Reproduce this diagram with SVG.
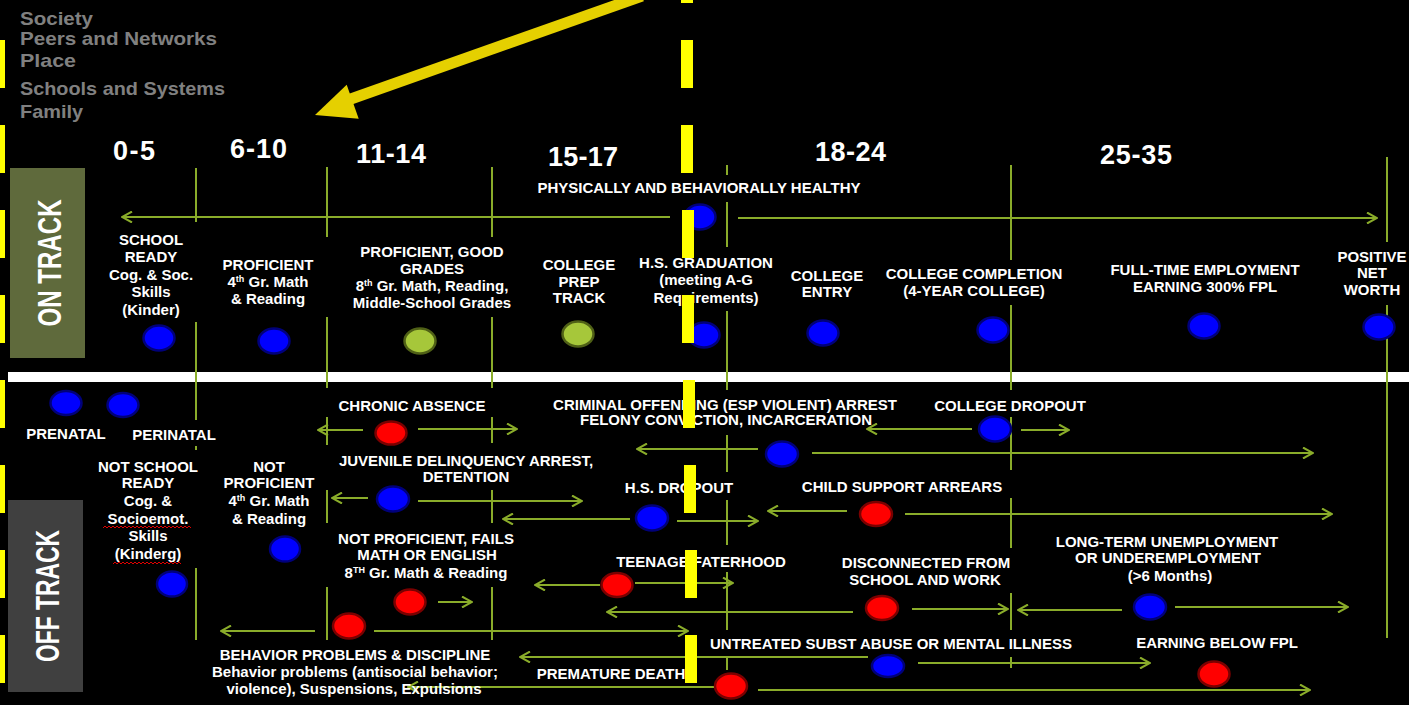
<svg xmlns="http://www.w3.org/2000/svg" width="1409" height="705" viewBox="0 0 1409 705">
<defs>
<style>
.t{font-family:"Liberation Sans",Arial,sans-serif;font-weight:bold;font-size:15px;fill:#fff;text-anchor:middle}
.gr{font-family:"Liberation Sans",Arial,sans-serif;font-weight:bold;font-size:19px;fill:#808080}
.age{font-family:"Liberation Sans",Arial,sans-serif;font-weight:bold;font-size:27px;fill:#fff}
.trk{font-family:"Liberation Sans",Arial,sans-serif;font-weight:bold;font-size:24px;fill:#fff;text-anchor:middle}
.ln{stroke:#8aac2a;stroke-width:2;fill:none}
.ar{stroke:#8aac2a;stroke-width:2;fill:none;marker-end:url(#ah)}
.b{fill:#0000ff;stroke:#00007a;stroke-width:2.5}
.r{fill:#ff0000;stroke:#7a0000;stroke-width:2.5}
.g{fill:#a6c73a;stroke:#4f6016;stroke-width:2.5}
.yd{fill:#ffff00}
.sq{stroke:#e00000;stroke-width:1;fill:none}
</style>
<marker id="ah" viewBox="0 0 12 12" refX="11" refY="6" markerWidth="12" markerHeight="12" markerUnits="userSpaceOnUse" orient="auto">
<path d="M1,0.5 L11,6 L1,11.5" fill="none" stroke="#8aac2a" stroke-width="2"/>
</marker>
</defs>
<rect width="1409" height="705" fill="#000"/>

<g id="levels">
<text class="gr" x="20" y="25" textLength="73" lengthAdjust="spacingAndGlyphs">Society</text>
<text class="gr" x="20" y="45" textLength="197" lengthAdjust="spacingAndGlyphs">Peers and Networks</text>
<text class="gr" x="20" y="67" textLength="56" lengthAdjust="spacingAndGlyphs">Place</text>
<text class="gr" x="20" y="95" textLength="205" lengthAdjust="spacingAndGlyphs">Schools and Systems</text>
<text class="gr" x="20" y="118" textLength="63" lengthAdjust="spacingAndGlyphs">Family</text>
</g>

<g id="ages">
<text class="age" x="113" y="160" textLength="42">0-5</text>
<text class="age" x="230" y="158" textLength="57">6-10</text>
<text class="age" x="356" y="163" textLength="70">11-14</text>
<text class="age" x="548" y="166" textLength="70">15-17</text>
<text class="age" x="815" y="161" textLength="71">18-24</text>
<text class="age" x="1100" y="164" textLength="72">25-35</text>
</g>

<g id="on-track-label">
<rect x="10" y="168" width="75" height="190" fill="#5f6a3c"/>
<text class="trk" transform="translate(61,263) rotate(-90) scale(1,1.35)" textLength="127" lengthAdjust="spacingAndGlyphs">ON TRACK</text>
</g>
<g id="off-track-label">
<rect x="8" y="500" width="75" height="192" fill="#404040"/>
<text class="trk" transform="translate(59,596) rotate(-90) scale(1,1.35)" textLength="132" lengthAdjust="spacingAndGlyphs">OFF TRACK</text>
</g>

<rect id="divider" x="8" y="372" width="1401" height="10" fill="#fff"/>

<g id="grid">
<path class="ln" d="M196,168V222M196,322V420M196,446V450M196,568V640"/>
<path class="ln" d="M327,167V237M327,317V388M327,417V445M327,490V523M327,587V640"/>
<path class="ln" d="M492,167V237M492,317V388M492,417V443M492,490V523M492,587V640"/>
<path class="ln" d="M727,165V175M727,202V247M727,311V390M727,435V472M727,500V545M727,572V630M727,658V670"/>
<path class="ln" d="M1011,165V260M1011,305V390M1011,417V470M1011,498V548M1011,593V630M1011,657V668"/>
<path class="ln" d="M1387,157V242M1387,305V638"/>
</g>

<g id="connectors">
<line class="ar" x1="670" y1="217" x2="122" y2="217"/>
<line class="ar" x1="738" y1="218" x2="1377" y2="218"/>
<line class="ar" x1="363" y1="430" x2="318" y2="430"/>
<line class="ar" x1="418" y1="429" x2="517" y2="429"/>
<line class="ar" x1="368" y1="498" x2="332" y2="498"/>
<line class="ar" x1="418" y1="501" x2="582" y2="501"/>
<line class="ar" x1="630" y1="519" x2="503" y2="519"/>
<line class="ar" x1="677" y1="521" x2="758" y2="521"/>
<line class="ar" x1="758" y1="449" x2="637" y2="449"/>
<line class="ar" x1="812" y1="453" x2="1313" y2="453"/>
<line class="ar" x1="972" y1="429" x2="867" y2="429"/>
<line class="ar" x1="1021" y1="430" x2="1069" y2="430"/>
<line class="ar" x1="847" y1="511" x2="768" y2="511"/>
<line class="ar" x1="905" y1="514" x2="1332" y2="514"/>
<line class="ar" x1="438" y1="602" x2="472" y2="602"/>
<line class="ar" x1="315" y1="631" x2="221" y2="631"/>
<line class="ar" x1="374" y1="631" x2="688" y2="631"/>
<line class="ar" x1="600" y1="585" x2="535" y2="585"/>
<line class="ar" x1="635" y1="583" x2="733" y2="583"/>
<line class="ar" x1="853" y1="612" x2="607" y2="612"/>
<line class="ar" x1="912" y1="609" x2="1008" y2="609"/>
<line class="ar" x1="1122" y1="610" x2="1018" y2="610"/>
<line class="ar" x1="1175" y1="607" x2="1348" y2="607"/>
<line class="ar" x1="868" y1="657" x2="520" y2="657"/>
<line class="ar" x1="918" y1="663" x2="1150" y2="663"/>
<line class="ar" x1="715" y1="687" x2="408" y2="687"/>
<line class="ar" x1="758" y1="690" x2="1310" y2="690"/>
</g>

<g id="healthy">
<text class="t" x="699" y="193">PHYSICALLY AND BEHAVIORALLY HEALTHY</text>
<ellipse class="b" cx="700" cy="217" rx="15.5" ry="12.5"/>
</g>
<g id="school-ready">
<text class="t" x="151" y="245">SCHOOL</text>
<text class="t" x="151" y="262">READY</text>
<text class="t" x="151" y="280">Cog. &amp; Soc.</text>
<text class="t" x="151" y="297">Skills</text>
<text class="t" x="151" y="315">(Kinder)</text>
<ellipse class="b" cx="159" cy="338" rx="15.5" ry="12.5"/>
</g>
<g id="proficient-4">
<text class="t" x="268" y="270">PROFICIENT</text>
<text class="t" x="268" y="287">4<tspan font-size="9" dy="-5">th</tspan><tspan dy="5"> Gr. Math</tspan></text>
<text class="t" x="268" y="304">&amp; Reading</text>
<ellipse class="b" cx="274" cy="341" rx="15.5" ry="12.5"/>
</g>
<g id="proficient-8">
<text class="t" x="432" y="257">PROFICIENT, GOOD</text>
<text class="t" x="432" y="274">GRADES</text>
<text class="t" x="432" y="291">8<tspan font-size="9" dy="-5">th</tspan><tspan dy="5">  Gr. Math, Reading,</tspan></text>
<text class="t" x="432" y="308">Middle-School Grades</text>
<ellipse class="g" cx="420" cy="341" rx="15.5" ry="12.5"/>
</g>
<g id="college-prep">
<text class="t" x="579" y="270">COLLEGE</text>
<text class="t" x="579" y="287">PREP</text>
<text class="t" x="579" y="303">TRACK</text>
<ellipse class="g" cx="578" cy="334" rx="15.5" ry="12.5"/>
</g>
<g id="hs-graduation">
<text class="t" x="706" y="268">H.S. GRADUATION</text>
<text class="t" x="706" y="285">(meeting A-G</text>
<text class="t" x="706" y="303">Requirements)</text>
<ellipse class="b" cx="704" cy="335" rx="15.5" ry="12.5"/>
</g>
<g id="college-entry">
<text class="t" x="827" y="281">COLLEGE</text>
<text class="t" x="827" y="297">ENTRY</text>
<ellipse class="b" cx="823" cy="333" rx="15.5" ry="12.5"/>
</g>
<g id="college-completion">
<text class="t" x="974" y="279">COLLEGE COMPLETION</text>
<text class="t" x="974" y="296">(4-YEAR COLLEGE)</text>
<ellipse class="b" cx="993" cy="330" rx="15.5" ry="12.5"/>
</g>
<g id="full-time">
<text class="t" x="1205" y="275">FULL-TIME EMPLOYMENT</text>
<text class="t" x="1205" y="292">EARNING 300% FPL</text>
<ellipse class="b" cx="1204" cy="326" rx="15.5" ry="12.5"/>
</g>
<g id="net-worth">
<text class="t" x="1372" y="262">POSITIVE</text>
<text class="t" x="1372" y="278">NET</text>
<text class="t" x="1372" y="295">WORTH</text>
<ellipse class="b" cx="1379" cy="327" rx="15.5" ry="12.5"/>
</g>

<g id="prenatal">
<ellipse class="b" cx="66" cy="403" rx="15.5" ry="12"/>
<text class="t" x="66" y="439">PRENATAL</text>
</g>
<g id="perinatal">
<ellipse class="b" cx="123" cy="405" rx="15.5" ry="12"/>
<text class="t" x="174" y="440">PERINATAL</text>
</g>
<g id="chronic-absence">
<text class="t" x="412" y="411">CHRONIC ABSENCE</text>
<ellipse class="r" cx="391" cy="433" rx="15.5" ry="11.5"/>
</g>
<g id="not-school-ready">
<text class="t" x="148" y="472">NOT SCHOOL</text>
<text class="t" x="148" y="488">READY</text>
<text class="t" x="148" y="506">Cog. &amp;</text>
<text class="t" x="148" y="524">Socioemot.</text>
<text class="t" x="148" y="541">Skills</text>
<text class="t" x="148" y="559">(Kinderg)</text>
<path class="sq" d="M103,528 l2,-2 l2,2 l2,-2 l2,2 l2,-2 l2,2 l2,-2 l2,2 l2,-2 l2,2 l2,-2 l2,2 l2,-2 l2,2 l2,-2 l2,2 l2,-2 l2,2 l2,-2 l2,2 l2,-2 l2,2 l2,-2 l2,2 l2,-2 l2,2 l2,-2 l2,2 l2,-2 l2,2 l2,-2 l2,2 l2,-2 l2,2 l2,-2 l2,2 l2,-2 l2,2 l2,-2 l2,2 l2,-2 l2,2 l2,-2 l2,2"/>
<path class="sq" d="M113,564 l2,-2 l2,2 l2,-2 l2,2 l2,-2 l2,2 l2,-2 l2,2 l2,-2 l2,2 l2,-2 l2,2 l2,-2 l2,2 l2,-2 l2,2 l2,-2 l2,2 l2,-2 l2,2 l2,-2 l2,2 l2,-2 l2,2 l2,-2 l2,2 l2,-2 l2,2 l2,-2 l2,2 l2,-2 l2,2 l2,-2 l2,2"/>
<ellipse class="b" cx="172" cy="584" rx="15" ry="12.5"/>
</g>
<g id="not-proficient-4">
<text class="t" x="269" y="472">NOT</text>
<text class="t" x="269" y="488">PROFICIENT</text>
<text class="t" x="269" y="506">4<tspan font-size="9" dy="-5">th</tspan><tspan dy="5"> Gr. Math</tspan></text>
<text class="t" x="269" y="524">&amp; Reading</text>
<ellipse class="b" cx="285" cy="549" rx="15" ry="12.5"/>
</g>
<g id="juvenile">
<text class="t" x="466" y="466">JUVENILE DELINQUENCY ARREST,</text>
<text class="t" x="466" y="482">DETENTION</text>
<ellipse class="b" cx="393" cy="499" rx="16" ry="12.5"/>
</g>
<g id="not-proficient-8">
<text class="t" x="426" y="544">NOT PROFICIENT, FAILS</text>
<text class="t" x="427" y="560">MATH OR ENGLISH</text>
<text class="t" x="426" y="578">8<tspan font-size="9" dy="-5">TH</tspan><tspan dy="5"> Gr. Math &amp; Reading</tspan></text>
<ellipse class="r" cx="410" cy="602" rx="15.5" ry="12.5"/>
</g>
<g id="behavior">
<ellipse class="r" cx="349" cy="626" rx="16" ry="12.5"/>
<text class="t" x="355" y="660">BEHAVIOR PROBLEMS &amp; DISCIPLINE</text>
<text class="t" x="355" y="677">Behavior problems (antisocial behavior;</text>
<text class="t" x="354" y="694">violence), Suspensions, Expulsions</text>
</g>
<g id="criminal">
<text class="t" x="725" y="410">CRIMINAL OFFENDING (ESP VIOLENT) ARREST</text>
<text class="t" x="726" y="425">FELONY CONVICTION, INCARCERATION</text>
<ellipse class="b" cx="782" cy="454" rx="16" ry="12.5"/>
</g>
<g id="college-dropout">
<text class="t" x="1010" y="411">COLLEGE DROPOUT</text>
<ellipse class="b" cx="995" cy="429" rx="16" ry="12.5"/>
</g>
<g id="hs-dropout">
<text class="t" x="679" y="493">H.S. DROPOUT</text>
<ellipse class="b" cx="652" cy="518" rx="16" ry="12.5"/>
</g>
<g id="child-support">
<text class="t" x="902" y="492">CHILD SUPPORT ARREARS</text>
<ellipse class="r" cx="876" cy="514" rx="16" ry="12"/>
</g>
<g id="teenage-fatherhood">
<text class="t" x="701" y="567">TEENAGE FATERHOOD</text>
<ellipse class="r" cx="617" cy="585" rx="15.5" ry="12"/>
</g>
<g id="disconnected">
<text class="t" x="926" y="568">DISCONNECTED FROM</text>
<text class="t" x="925" y="585">SCHOOL AND WORK</text>
<ellipse class="r" cx="882" cy="608" rx="16" ry="12"/>
</g>
<g id="long-term">
<text class="t" x="1167" y="547">LONG-TERM UNEMPLOYMENT</text>
<text class="t" x="1168" y="563">OR UNDEREMPLOYMENT</text>
<text class="t" x="1170" y="581">(&gt;6 Months)</text>
<ellipse class="b" cx="1150" cy="607" rx="16" ry="12.5"/>
</g>
<g id="untreated">
<text class="t" x="891" y="649">UNTREATED SUBST ABUSE OR MENTAL ILLNESS</text>
<ellipse class="b" cx="888" cy="666" rx="16" ry="11"/>
</g>
<g id="earning-below">
<text class="t" x="1217" y="648">EARNING BELOW FPL</text>
<ellipse class="r" cx="1214" cy="674" rx="15.5" ry="12.5"/>
</g>
<g id="premature-death">
<text class="t" x="611" y="679">PREMATURE DEATH</text>
<ellipse class="r" cx="731" cy="686" rx="16" ry="12.5"/>
</g>

<g id="yellow-left">
<rect class="yd" x="0" y="40" width="5" height="48"/>
<rect class="yd" x="0" y="125" width="5" height="48"/>
<rect class="yd" x="0" y="210" width="5" height="48"/>
<rect class="yd" x="0" y="295" width="5" height="48"/>
<rect class="yd" x="0" y="380" width="5" height="48"/>
<rect class="yd" x="0" y="465" width="5" height="48"/>
<rect class="yd" x="0" y="550" width="5" height="48"/>
<rect class="yd" x="0" y="635" width="5" height="48"/>
</g>
<g id="yellow-center">
<rect class="yd" x="681" y="-45" width="12" height="48"/>
<rect class="yd" x="681" y="40" width="12" height="48"/>
<rect class="yd" x="681" y="125" width="12" height="48"/>
<rect class="yd" x="682" y="210" width="12" height="48"/>
<rect class="yd" x="682" y="295" width="12" height="48"/>
<rect class="yd" x="683" y="380" width="12" height="48"/>
<rect class="yd" x="684" y="465" width="12" height="48"/>
<rect class="yd" x="685" y="550" width="12" height="48"/>
<rect class="yd" x="685" y="635" width="12" height="48"/>
</g>
<g id="yellow-arrow">
<line x1="642" y1="-4" x2="348" y2="100" stroke="#e5d000" stroke-width="11"/>
<polygon points="315,115 346.7,84.7 358.7,118.7" fill="#e5d000"/>
</g>
</svg>
